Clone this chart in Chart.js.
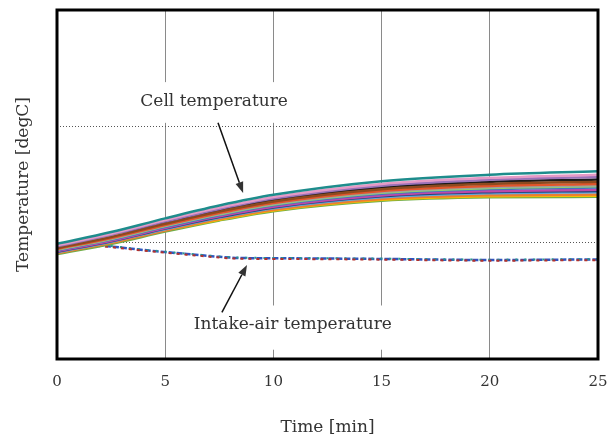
<!DOCTYPE html>
<html>
<head>
<meta charset="utf-8">
<title>Cell and intake-air temperature</title>
<script src="https://cdn.jsdelivr.net/npm/chart.js@4.4.1/dist/chart.umd.min.js"></script>
<style>
  html, body { margin: 0; padding: 0; background: #fff; }
  #wrap { width: 615px; height: 434px; }
</style>
</head>
<body>
<div id="wrap"><canvas id="tempChart" width="615" height="434"></canvas></div>
<script>
// sample times [min] for the cell sensors
const cellTimes = [0, 2.5, 5, 7.5, 10, 15, 20, 25];

// cell temperatures, one list per sensor (relative units)
const cellTeal      = [0.990, 1.091, 1.209, 1.319, 1.411, 1.528, 1.584, 1.614];
const cellPink      = [0.978, 1.077, 1.194, 1.301, 1.392, 1.505, 1.557, 1.584];
const cellPurple    = [0.970, 1.068, 1.183, 1.290, 1.379, 1.490, 1.540, 1.564];
const cellBrown     = [0.954, 1.049, 1.162, 1.267, 1.354, 1.459, 1.505, 1.524];
const cellRed       = [0.946, 1.040, 1.152, 1.255, 1.341, 1.444, 1.487, 1.504];
const cellGray      = [0.942, 1.035, 1.147, 1.249, 1.335, 1.436, 1.478, 1.494];
const cellLimeGreen = [0.938, 1.031, 1.142, 1.243, 1.328, 1.429, 1.469, 1.484];
const cellBlue      = [0.934, 1.026, 1.136, 1.238, 1.322, 1.421, 1.461, 1.474];
const cellMagenta   = [0.926, 1.017, 1.126, 1.226, 1.309, 1.406, 1.443, 1.454];
const cellNavy      = [0.922, 1.012, 1.121, 1.220, 1.303, 1.398, 1.434, 1.444];
const cellSky       = [0.918, 1.008, 1.116, 1.214, 1.296, 1.391, 1.425, 1.434];
const cellOrange    = [0.910, 0.999, 1.105, 1.203, 1.283, 1.376, 1.408, 1.414];
const cellYellow    = [0.975, 1.060, 1.110, 1.197, 1.277, 1.368, 1.399, 1.404];
const cellGreen     = [0.902, 0.989, 1.095, 1.191, 1.271, 1.360, 1.390, 1.394];
const cellBlack     = [0.962, 1.058, 1.173, 1.278, 1.367, 1.474, 1.522, 1.544];

// intake-air sensors
const airTimes = [0, 1, 2, 4, 6, 8.5, 10, 15, 20, 25];
const airRed   = [0.965, 0.974, 0.969, 0.931, 0.897, 0.862, 0.860, 0.854, 0.845, 0.850];
const airTeal  = [0.974, 0.983, 0.978, 0.940, 0.906, 0.871, 0.869, 0.863, 0.854, 0.859];
const airBlue  = [0.971, 0.980, 0.975, 0.937, 0.903, 0.868, 0.866, 0.860, 0.851, 0.856];

const xTicks = [0, 5, 10, 15, 20, 25];

// callout texts with the point each arrow points at (axis units)
const callouts = [
  { text: 'Cell temperature',       tx: 7.26, ty: 2.21, box: [3.4, 11.1, 2.03, 2.38], ax: 7.44, ay: 2.03, hx: 8.6,  hy: 1.427 },
  { text: 'Intake-air temperature', tx: 10.9, ty: 0.292, box: [5.2, 15.8, 0.08, 0.46], ax: 7.62, ay: 0.40, hx: 8.78, hy: 0.808 }
];

const FONT = '"DejaVu Serif", "Liberation Serif", serif';

function toPoints(times, values) {
  return times.map((t, i) => ({ x: t, y: values[i] }));
}

function cellLine(values, color) {
  return {
    data: toPoints(cellTimes, values),
    borderColor: color,
    borderWidth: 2.5,
    pointRadius: 0,
    cubicInterpolationMode: 'monotone',
    fill: false
  };
}

function airLine(values, color, width, dash) {
  return {
    data: toPoints(airTimes, values),
    borderColor: color,
    borderWidth: width,
    borderDash: dash,
    pointRadius: 0,
    cubicInterpolationMode: 'monotone',
    fill: false
  };
}

const datasets = [
  cellLine(cellTeal, '#1e8c8c'),
  cellLine(cellPink, '#e59ac6'),
  cellLine(cellPurple, '#9a72b8'),
  cellLine(cellBrown, '#8c4a1f'),
  cellLine(cellRed, '#e2552b'),
  cellLine(cellGray, '#a0a0a0'),
  cellLine(cellLimeGreen, '#8fcf6f'),
  cellLine(cellBlue, '#4472c4'),
  cellLine(cellMagenta, '#c048a8'),
  cellLine(cellNavy, '#264478'),
  cellLine(cellSky, '#5ba6dd'),
  cellLine(cellOrange, '#ed7d31'),
  cellLine(cellYellow, '#f5c000'),
  cellLine(cellGreen, '#70ad47'),
  cellLine(cellBlack, '#1a1a1a'),
  airLine(airRed, '#b5312a', 2, [3, 5]),
  airLine(airTeal, '#27998c', 2, [2, 7]),
  airLine(airBlue, '#2f55c0', 2.5, [6, 2])
];

// white boxes behind the callouts, then text and arrows on top
const calloutPlugin = {
  id: 'callouts',
  beforeDatasetsDraw(chart) {
    const { ctx, scales: { x, y } } = chart;
    ctx.save();
    ctx.fillStyle = '#fff';
    callouts.forEach(c => {
      const x0 = x.getPixelForValue(c.box[0]);
      const x1 = x.getPixelForValue(c.box[1]);
      const y0 = y.getPixelForValue(c.box[3]);
      const y1 = y.getPixelForValue(c.box[2]);
      ctx.fillRect(x0, y0, x1 - x0, y1 - y0);
    });
    ctx.restore();
  },
  afterDatasetsDraw(chart) {
    const { ctx, scales: { x, y } } = chart;
    ctx.save();
    ctx.fillStyle = '#333';
    ctx.strokeStyle = '#111';
    ctx.font = '17px ' + FONT;
    ctx.textAlign = 'center';
    ctx.textBaseline = 'middle';
    callouts.forEach(c => {
      ctx.fillText(c.text, x.getPixelForValue(c.tx), y.getPixelForValue(c.ty));

      const ax = x.getPixelForValue(c.ax), ay = y.getPixelForValue(c.ay);
      const hx = x.getPixelForValue(c.hx), hy = y.getPixelForValue(c.hy);
      const ang = Math.atan2(hy - ay, hx - ax);
      const len = 11, half = 4;
      const bx = hx - len * Math.cos(ang), by = hy - len * Math.sin(ang);
      ctx.lineWidth = 1.5;
      ctx.beginPath();
      ctx.moveTo(ax, ay);
      ctx.lineTo(bx, by);
      ctx.stroke();
      ctx.beginPath();
      ctx.moveTo(hx, hy);
      ctx.lineTo(bx + half * Math.sin(ang), by - half * Math.cos(ang));
      ctx.lineTo(bx - half * Math.sin(ang), by + half * Math.cos(ang));
      ctx.closePath();
      ctx.fill();
    });
    ctx.restore();
  },
  afterDraw(chart) {
    const { ctx, chartArea: a } = chart;
    ctx.save();
    ctx.strokeStyle = '#000';
    ctx.lineWidth = 3;
    ctx.strokeRect(a.left, a.top, a.right - a.left, a.bottom - a.top);
    ctx.restore();
  }
};

new Chart(document.getElementById('tempChart'), {
  type: 'line',
  data: { datasets: datasets },
  plugins: [calloutPlugin],
  options: {
    responsive: false,
    animation: false,
    layout: { padding: { top: 10, right: 17, bottom: 0, left: 0 } },
    plugins: {
      legend: { display: false },
      tooltip: { enabled: false }
    },
    scales: {
      x: {
        type: 'linear',
        min: 0,
        max: 25,
        afterBuildTicks(scale) {
          scale.ticks = xTicks.map(v => ({ value: v }));
        },
        afterFit(scale) {
          scale.height = 75;
          scale.paddingLeft = 0;
          scale.paddingRight = 0;
        },
        grid: {
          color: '#8a8a8a',
          lineWidth: 1,
          drawTicks: false
        },
        border: { display: false },
        ticks: {
          padding: 14,
          color: '#333',
          font: { family: FONT, size: 15 },
          maxRotation: 0
        },
        title: {
          display: true,
          text: 'Time [min]',
          color: '#333',
          font: { family: FONT, size: 17, lineHeight: 1 },
          padding: { top: 0, bottom: -2 }
        }
      },
      y: {
        type: 'linear',
        min: 0,
        max: 3,
        afterFit(scale) { scale.width = 57; },
        ticks: { display: false, stepSize: 1 },
        grid: {
          color: '#555',
          lineWidth: 1,
          drawTicks: false
        },
        border: { display: false, dash: [1, 2] },
        title: {
          display: true,
          text: 'Temperature [degC]',
          color: '#333',
          font: { family: FONT, size: 17, lineHeight: 1.2 },
          padding: { top: 13, bottom: 0 }
        }
      }
    }
  }
});
</script>
</body>
</html>
